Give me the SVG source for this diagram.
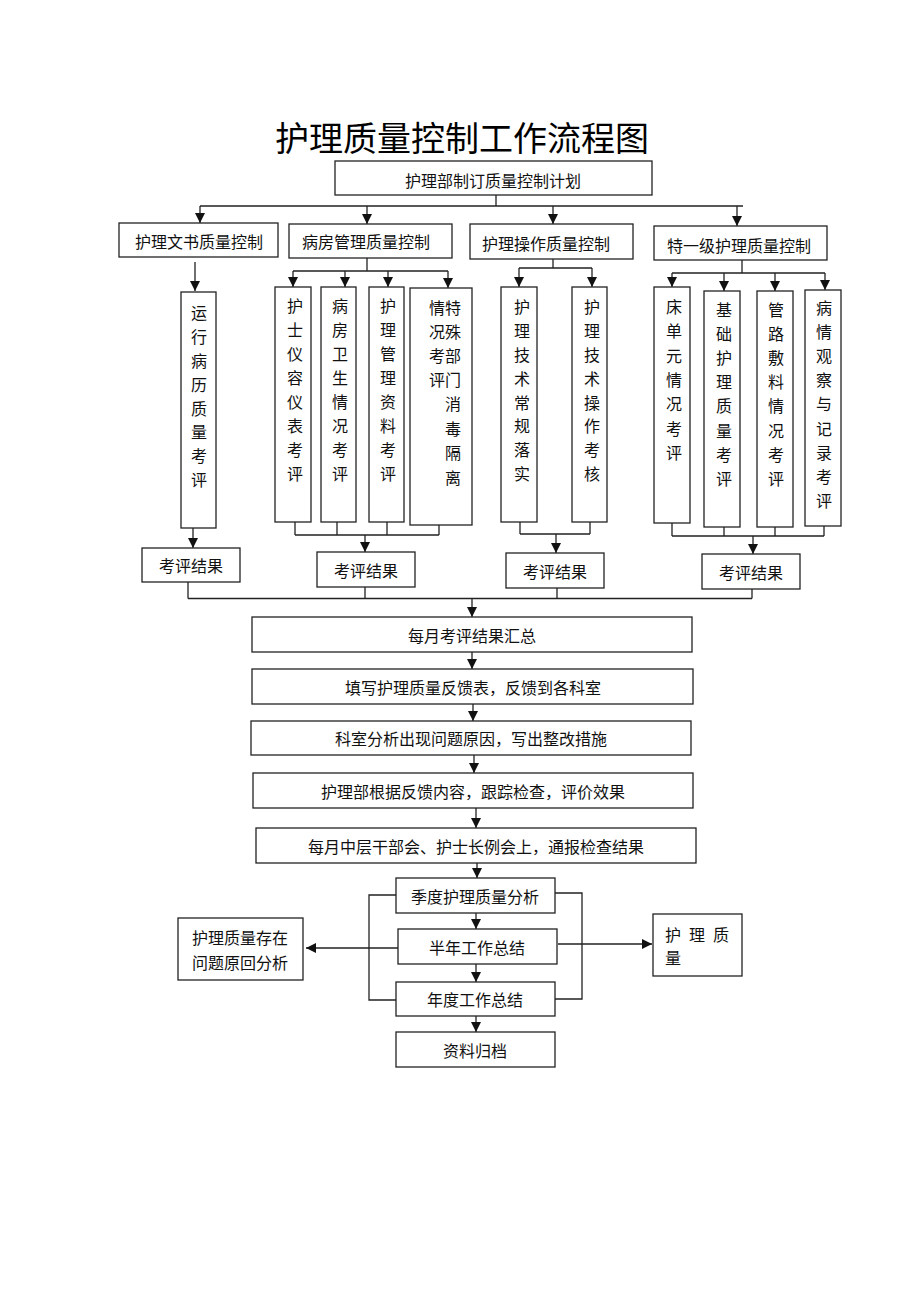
<svg xmlns="http://www.w3.org/2000/svg" width="920" height="1302" viewBox="0 0 920 1302">
<style>
.b{fill:#fff;stroke:#222;stroke-width:1.3}
.t{font-family:"Noto Sans CJK SC","Liberation Sans",sans-serif;font-size:16px;fill:#111;text-anchor:middle;dominant-baseline:central}
.c{stroke:#222;stroke-width:1.3;fill:none}
.a{marker-end:url(#arr)}
.title{font-family:"Noto Sans CJK SC","Liberation Sans",sans-serif;font-size:34px;fill:#000;text-anchor:middle;dominant-baseline:central}
</style>
<defs>
<marker id="arr" markerUnits="userSpaceOnUse" markerWidth="11" markerHeight="10" refX="10" refY="5" orient="auto">
<path d="M0,0 L10,5 L0,10 z" fill="#111"/>
</marker>
</defs>
<rect width="920" height="1302" fill="#fff"/>
<text class="title" x="462" y="136">护理质量控制工作流程图</text>

<g id="connectors">
<!-- top plan to four branches -->
<path class="c" d="M496,195 V206 M200,206 H743"/>
<line class="c a" x1="200" y1="206" x2="200" y2="223"/>
<line class="c a" x1="367" y1="206" x2="367" y2="224"/>
<line class="c a" x1="553" y1="206" x2="553" y2="224"/>
<line class="c a" x1="737" y1="206" x2="737" y2="226"/>
<!-- branch 1 -->
<line class="c a" x1="195" y1="262" x2="195" y2="291"/>
<!-- branch 2 -->
<path class="c" d="M367,258 V271 M293,271 H448"/>
<line class="c a" x1="293" y1="271" x2="293" y2="287"/>
<line class="c a" x1="345" y1="271" x2="345" y2="287"/>
<line class="c a" x1="388" y1="271" x2="388" y2="287"/>
<line class="c a" x1="448" y1="271" x2="448" y2="288"/>
<!-- branch 3 -->
<path class="c" d="M553,259 V268 M519,268 H592"/>
<line class="c a" x1="519" y1="268" x2="519" y2="287"/>
<line class="c a" x1="592" y1="268" x2="592" y2="287"/>
<!-- branch 4 -->
<path class="c" d="M742,260 V273 M672,273 H825"/>
<line class="c a" x1="672" y1="273" x2="672" y2="287"/>
<line class="c a" x1="724" y1="273" x2="724" y2="291"/>
<line class="c a" x1="775" y1="273" x2="775" y2="291"/>
<line class="c a" x1="825" y1="273" x2="825" y2="290"/>
<!-- collect to results -->
<line class="c a" x1="193" y1="528" x2="193" y2="548"/>
<path class="c" d="M295,522 V535 M337,522 V535 M387,522 V535 M439,525 V535 M295,535 H439"/>
<line class="c a" x1="365" y1="535" x2="365" y2="552"/>
<path class="c" d="M520,522 V534 M590,522 V534 M520,534 H590"/>
<line class="c a" x1="556" y1="534" x2="556" y2="553"/>
<path class="c" d="M672,523 V536 M724,527 V536 M775,527 V536 M824,526 V536 M672,536 H824"/>
<line class="c a" x1="753" y1="536" x2="753" y2="554"/>
<!-- results to summary -->
<path class="c" d="M188,582 V598.5 M365,587 V598.5 M557,588 V598.5 M752,589 V598.5 M188,598.5 H752"/>
<line class="c a" x1="472" y1="598.5" x2="472" y2="617"/>
<line class="c a" x1="472" y1="652" x2="472" y2="669"/>
<line class="c a" x1="473" y1="704" x2="473" y2="721"/>
<line class="c a" x1="474" y1="755" x2="474" y2="773"/>
<line class="c a" x1="476" y1="808" x2="476" y2="828"/>
<line class="c a" x1="477" y1="863" x2="477" y2="878"/>
<line class="c a" x1="476" y1="913" x2="476" y2="929"/>
<line class="c a" x1="476" y1="964" x2="476" y2="982"/>
<line class="c a" x1="476" y1="1016" x2="476" y2="1032"/>
<!-- brackets -->
<path class="c" d="M396,895 H369 V1000 H396"/>
<path class="c" d="M555,893 H582 V999 H555"/>
<line class="c a" x1="398" y1="948" x2="306" y2="948"/>
<line class="c a" x1="558" y1="944" x2="652" y2="944"/>
</g>

<g id="n-plan"><rect class="b" x="335" y="161" width="317" height="34"/><text class="t" x="493" y="180">护理部制订质量控制计划</text></g>

<g id="n-doc"><rect class="b" x="119" y="223" width="159" height="34"/><text class="t" x="199" y="241">护理文书质量控制</text></g>
<g id="n-ward"><rect class="b" x="289" y="224" width="163" height="34"/><text class="t" x="366" y="241">病房管理质量控制</text></g>
<g id="n-op"><rect class="b" x="470" y="224" width="163" height="35"/><text class="t" x="546" y="243">护理操作质量控制</text></g>
<g id="n-special"><rect class="b" x="654" y="226" width="173" height="34"/><text class="t" x="739" y="245">特一级护理质量控制</text></g>

<g id="n-record"><rect class="b" x="181" y="292" width="35" height="236"/>
<text class="t"><tspan x="199" y="312">运</tspan><tspan x="199" y="336">行</tspan><tspan x="199" y="360">病</tspan><tspan x="199" y="384">历</tspan><tspan x="199" y="408">质</tspan><tspan x="199" y="431">量</tspan><tspan x="199" y="455">考</tspan><tspan x="199" y="479">评</tspan></text></g>

<g id="n-appear"><rect class="b" x="275" y="287" width="36" height="235"/>
<text class="t"><tspan x="295" y="305">护</tspan><tspan x="295" y="329">士</tspan><tspan x="295" y="353">仪</tspan><tspan x="295" y="377">容</tspan><tspan x="295" y="401">仪</tspan><tspan x="295" y="425">表</tspan><tspan x="295" y="449">考</tspan><tspan x="295" y="473">评</tspan></text></g>

<g id="n-hygiene"><rect class="b" x="321" y="287" width="35" height="235"/>
<text class="t"><tspan x="340" y="305">病</tspan><tspan x="340" y="329">房</tspan><tspan x="340" y="353">卫</tspan><tspan x="340" y="377">生</tspan><tspan x="340" y="401">情</tspan><tspan x="340" y="425">况</tspan><tspan x="340" y="449">考</tspan><tspan x="340" y="473">评</tspan></text></g>

<g id="n-data"><rect class="b" x="369" y="287" width="35" height="235"/>
<text class="t"><tspan x="388" y="305">护</tspan><tspan x="388" y="329">理</tspan><tspan x="388" y="353">管</tspan><tspan x="388" y="377">理</tspan><tspan x="388" y="401">资</tspan><tspan x="388" y="425">料</tspan><tspan x="388" y="449">考</tspan><tspan x="388" y="473">评</tspan></text></g>

<g id="n-disinfect"><rect class="b" x="410" y="288" width="62" height="237"/>
<text class="t"><tspan x="437" y="307">情</tspan><tspan x="453" y="307">特</tspan><tspan x="437" y="331">况</tspan><tspan x="453" y="331">殊</tspan><tspan x="437" y="355">考</tspan><tspan x="453" y="355">部</tspan><tspan x="437" y="379">评</tspan><tspan x="453" y="379">门</tspan><tspan x="453" y="403">消</tspan><tspan x="453" y="428">毒</tspan><tspan x="453" y="452">隔</tspan><tspan x="453" y="477">离</tspan></text></g>

<g id="n-routine"><rect class="b" x="501" y="287" width="36" height="235"/>
<text class="t"><tspan x="522" y="306">护</tspan><tspan x="522" y="330">理</tspan><tspan x="522" y="354">技</tspan><tspan x="522" y="378">术</tspan><tspan x="522" y="402">常</tspan><tspan x="522" y="425">规</tspan><tspan x="522" y="449">落</tspan><tspan x="522" y="473">实</tspan></text></g>

<g id="n-skill"><rect class="b" x="572" y="287" width="35" height="235"/>
<text class="t"><tspan x="592" y="306">护</tspan><tspan x="592" y="330">理</tspan><tspan x="592" y="354">技</tspan><tspan x="592" y="378">术</tspan><tspan x="592" y="402">操</tspan><tspan x="592" y="425">作</tspan><tspan x="592" y="449">考</tspan><tspan x="592" y="473">核</tspan></text></g>

<g id="n-bed"><rect class="b" x="654" y="287" width="36" height="236"/>
<text class="t"><tspan x="674" y="306">床</tspan><tspan x="674" y="330">单</tspan><tspan x="674" y="355">元</tspan><tspan x="674" y="379">情</tspan><tspan x="674" y="403">况</tspan><tspan x="674" y="428">考</tspan><tspan x="674" y="452">评</tspan></text></g>

<g id="n-basic"><rect class="b" x="704" y="291" width="36" height="236"/>
<text class="t"><tspan x="724" y="309">基</tspan><tspan x="724" y="333">础</tspan><tspan x="724" y="357">护</tspan><tspan x="724" y="381">理</tspan><tspan x="724" y="405">质</tspan><tspan x="724" y="430">量</tspan><tspan x="724" y="454">考</tspan><tspan x="724" y="478">评</tspan></text></g>

<g id="n-tube"><rect class="b" x="757" y="291" width="36" height="236"/>
<text class="t"><tspan x="776" y="309">管</tspan><tspan x="776" y="333">路</tspan><tspan x="776" y="357">敷</tspan><tspan x="776" y="381">料</tspan><tspan x="776" y="405">情</tspan><tspan x="776" y="430">况</tspan><tspan x="776" y="454">考</tspan><tspan x="776" y="478">评</tspan></text></g>

<g id="n-observe"><rect class="b" x="805" y="290" width="36" height="236"/>
<text class="t"><tspan x="824" y="307">病</tspan><tspan x="824" y="331">情</tspan><tspan x="824" y="355">观</tspan><tspan x="824" y="379">察</tspan><tspan x="824" y="403">与</tspan><tspan x="824" y="428">记</tspan><tspan x="824" y="452">录</tspan><tspan x="824" y="476">考</tspan><tspan x="824" y="500">评</tspan></text></g>

<g id="n-res1"><rect class="b" x="142" y="548" width="98" height="34"/><text class="t" x="191" y="565">考评结果</text></g>
<g id="n-res2"><rect class="b" x="317" y="552" width="98" height="35"/><text class="t" x="366" y="569.5">考评结果</text></g>
<g id="n-res3"><rect class="b" x="506" y="553" width="98" height="35"/><text class="t" x="555" y="570.5">考评结果</text></g>
<g id="n-res4"><rect class="b" x="702" y="554" width="98" height="35"/><text class="t" x="751" y="571.5">考评结果</text></g>

<g id="n-month"><rect class="b" x="252" y="617" width="440" height="35"/><text class="t" x="472" y="635">每月考评结果汇总</text></g>
<g id="n-feedback"><rect class="b" x="252" y="669" width="441" height="35"/><text class="t" x="473" y="687">填写护理质量反馈表，反馈到各科室</text></g>
<g id="n-analysis"><rect class="b" x="251" y="721" width="440" height="34"/><text class="t" x="471" y="738">科室分析出现问题原因，写出整改措施</text></g>
<g id="n-track"><rect class="b" x="253" y="773" width="440" height="35"/><text class="t" x="473" y="791">护理部根据反馈内容，跟踪检查，评价效果</text></g>
<g id="n-meeting"><rect class="b" x="256" y="828" width="440" height="35"/><text class="t" x="476" y="846">每月中层干部会、护士长例会上，通报检查结果</text></g>

<g id="n-quarter"><rect class="b" x="396" y="878" width="159" height="35"/><text class="t" x="475" y="896">季度护理质量分析</text></g>
<g id="n-half"><rect class="b" x="398" y="929" width="159" height="35"/><text class="t" x="477" y="947">半年工作总结</text></g>
<g id="n-year"><rect class="b" x="396" y="982" width="159" height="34"/><text class="t" x="475" y="999">年度工作总结</text></g>
<g id="n-archive"><rect class="b" x="396" y="1032" width="159" height="35"/><text class="t" x="475" y="1050">资料归档</text></g>

<g id="n-problem"><rect class="b" x="178" y="918" width="125" height="62"/>
<text class="t"><tspan x="240" y="937">护理质量存在</tspan><tspan x="240" y="962">问题原回分析</tspan></text></g>
<g id="n-quality"><rect class="b" x="653" y="914" width="89" height="62"/>
<text class="t" style="text-anchor:start" xml:space="preserve"><tspan x="665 681 689 705 713" y="934">护 理 质</tspan><tspan x="665" y="957">量</tspan></text></g>
</svg>
